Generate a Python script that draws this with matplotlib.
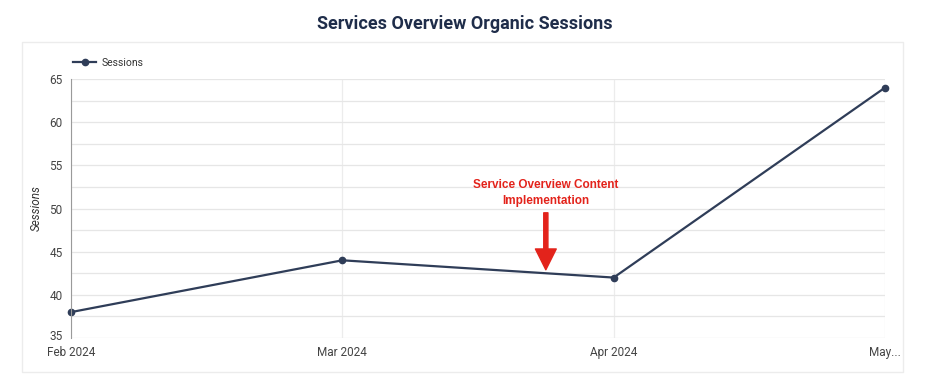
import matplotlib.pyplot as plt
import matplotlib.transforms as mtransforms
from matplotlib.patches import Rectangle
from matplotlib.lines import Line2D

months = ["Feb 2024", "Mar 2024", "Apr 2024", "May..."]
sessions = [38, 44, 42, 64]

navy = "#2f3d58"
red = "#e3231b"

plt.rcParams['font.family'] = ['Roboto', 'DejaVu Sans']

fig = plt.figure(figsize=(9.29, 3.92), dpi=100)

# card background, kept behind the axes
fig.patches.append(Rectangle((22 / 929, 1 - 372 / 392), 881 / 929, 330 / 392,
                             transform=fig.transFigure, facecolor="white",
                             edgecolor="#ececec", linewidth=1, zorder=-10))

fig.text(0.5, 1 - 24 / 392, "Services Overview Organic Sessions", ha="center", va="center",
         fontsize=13, fontweight="bold", color="#1f2d4a")

ax = fig.add_axes([71 / 929, 1 - 338 / 392, 814 / 929, 259 / 392])
ax.set_zorder(5)
ax.patch.set_alpha(0)
x = list(range(len(months)))
ax.plot(x, sessions, color=navy, linewidth=1.6, marker="o", markersize=4.5, clip_on=False)

ax.set_xlim(0, 3)
ax.set_ylim(35, 65)
ax.set_yticks(range(35, 66, 5))
ax.set_yticks([37.5, 42.5, 47.5, 52.5, 57.5, 62.5], minor=True)
ax.set_xticks(x)
ax.set_xticklabels(months)
ax.grid(True, which="both", axis="y", color="#e6e6e6", linewidth=0.9)
ax.grid(True, axis="x", color="#ececec", linewidth=0.9)
ax.tick_params(axis="both", which="both", length=0, labelsize=8.5, colors="#444444")
ax.tick_params(axis="x", pad=6)
ax.tick_params(axis="y", pad=6)
for s in ["top", "right", "bottom"]:
    ax.spines[s].set_visible(False)
ax.spines["left"].set_color("#9a9a9a")
ax.set_ylabel("Sessions", fontsize=8.5, style="italic", color="#333333", labelpad=5)
ax.set_axisbelow(True)

# nudge "35" up a touch so it clears "Feb 2024"
first = ax.get_yticklabels()[0]
first.set_transform(first.get_transform() +
                    mtransforms.ScaledTranslation(0, 3 / 100, fig.dpi_scale_trans))

# last label ends past the axis like the reference
last = ax.get_xticklabels()[-1]
last.set_ha("right")
offset = mtransforms.ScaledTranslation(16 / 100, 0, fig.dpi_scale_trans)
last.set_transform(last.get_transform() + offset)

ax.annotate("", xy=(1.75, 42.9), xytext=(1.75, 49.5),
            arrowprops=dict(facecolor=red, edgecolor=red, width=3, headwidth=15,
                            headlength=15, shrink=0))
ax.text(1.75, 51.8, "Service Overview Content\nImplementation", ha="center", va="center",
        fontsize=8.5, fontweight="bold", color=red, linespacing=1.35,
        family=["Liberation Sans", "DejaVu Sans"])

handle = Line2D([], [], color=navy, marker="o", markersize=4.5, linewidth=1.6)
fig.legend([handle], ["Sessions"], loc="center left", bbox_to_anchor=(64 / 929, 1 - 63 / 392),
           frameon=False, fontsize=7.5, handlelength=2.2, handletextpad=0.5,
           labelcolor="#333333")

fig.savefig("out.png", dpi=100, facecolor="white")
